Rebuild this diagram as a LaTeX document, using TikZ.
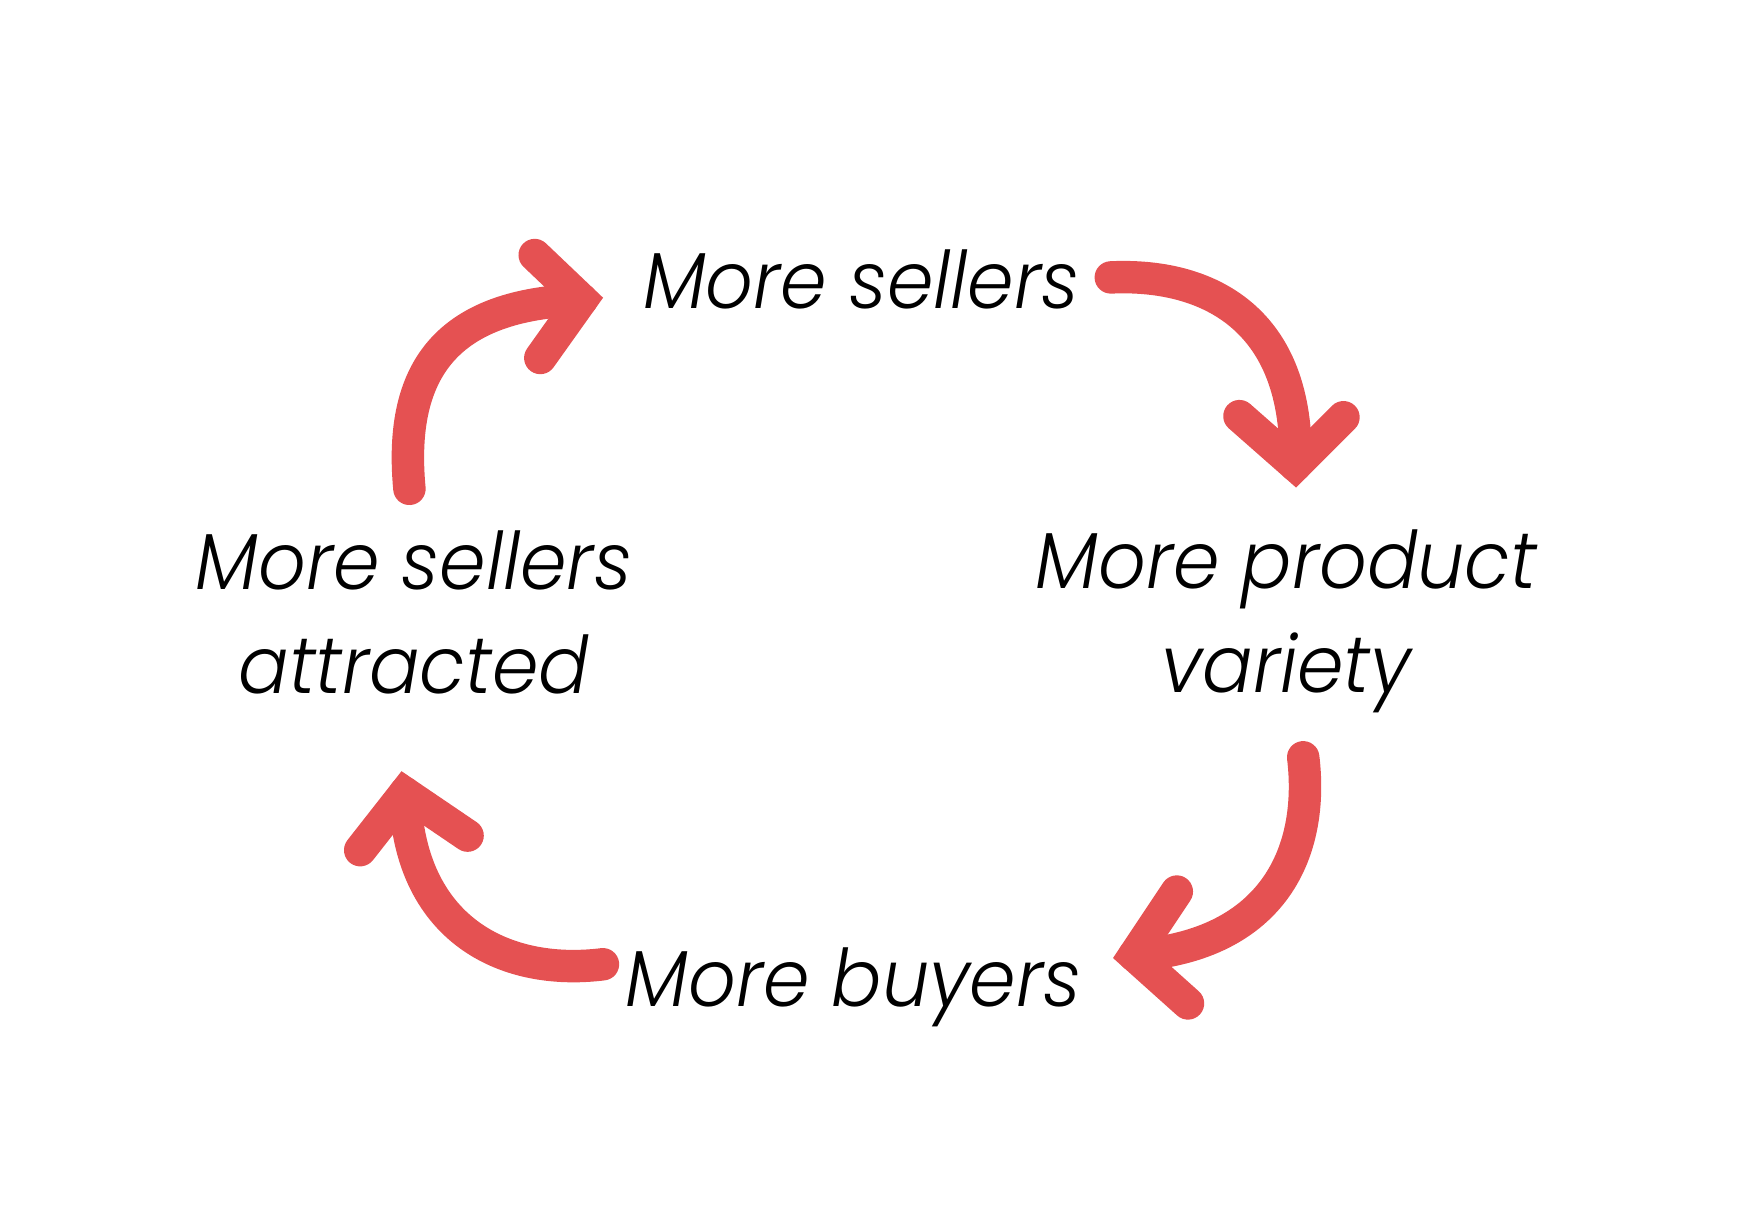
\documentclass[tikz,border=0pt]{standalone}
\usepackage{fontspec}
\newfontfamily\lblfont{Poppins Light Italic}[FakeStretch=0.94]
\definecolor{arrowred}{RGB}{229,81,82}
\begin{document}
\begin{tikzpicture}[x=1pt,y=-1pt,
  lbl/.style={font=\lblfont\fontsize{71}{93}\selectfont, inner sep=0pt, align=center, text=black},
  shaft/.style={draw=arrowred, line width=29pt, line cap=round},
  ahead/.style={draw=arrowred, line width=29pt, line cap=round, line join=miter, miter limit=10}]
\useasboundingbox (0,0) rectangle (1568,1078);
% labels
\node[lbl, anchor=base] (sellers) at (770,276) {More sellers};
\node[lbl, anchor=base] (variety) at (1150,619) {More product\\variety};
\node[lbl, anchor=base] (buyers) at (763,900) {More buyers};
\node[lbl, anchor=base] (attracted) at (370,620) {More sellers\\attracted};
% arrow 1: attracted -> sellers
\coordinate (t1) at (366,437);
\coordinate (p1) at (520,268);
\coordinate (a1) at (478,228);
\coordinate (b1) at (483,320);
\draw[shaft] (t1) .. controls (356,330) and (400,272) .. (p1);
\draw[ahead] (a1) -- (p1) -- (b1);
% arrow 2: sellers -> variety
\coordinate (t2) at (993,248);
\coordinate (p2) at (1158,416);
\coordinate (a2) at (1108,372);
\coordinate (b2) at (1201,373);
\draw[shaft] (t2) .. controls (1080,244) and (1162,285) .. (p2);
\draw[ahead] (a2) -- (p2) -- (b2);
% arrow 3: variety -> buyers
\coordinate (t3) at (1165,677);
\coordinate (p3) at (1014,854);
\coordinate (a3) at (1052,797);
\coordinate (b3) at (1062,897);
\draw[shaft] (t3) .. controls (1175,760) and (1140,845) .. (p3);
\draw[ahead] (a3) -- (p3) -- (b3);
% arrow 4: buyers -> attracted
\coordinate (t4) at (539,862);
\coordinate (p4) at (362,709);
\coordinate (a4) at (322,760);
\coordinate (b4) at (418,747);
\draw[shaft] (t4) .. controls (450,873) and (365,830) .. (p4);
\draw[ahead] (a4) -- (p4) -- (b4);
\end{tikzpicture}
\end{document}
